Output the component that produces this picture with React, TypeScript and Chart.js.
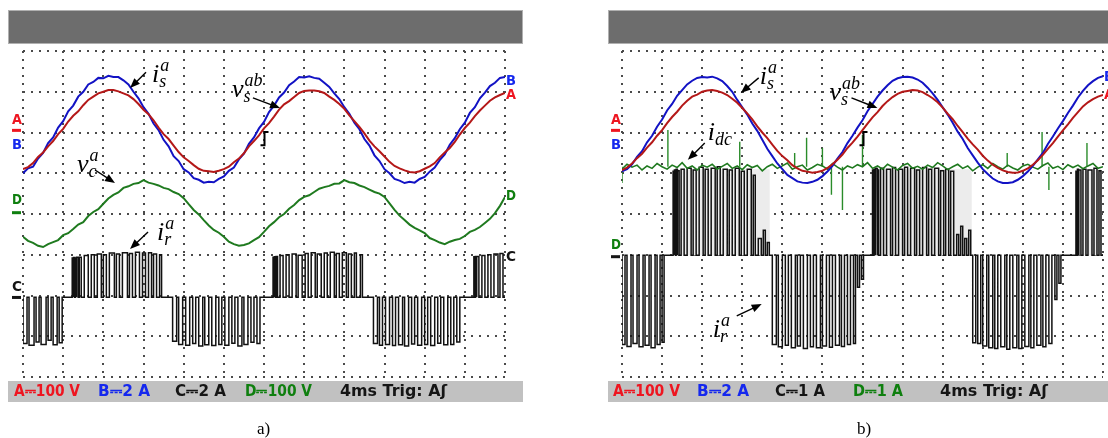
import React, { useEffect, useRef } from 'react';
import { Chart, registerables } from 'chart.js';

Chart.register(...registerables);

// ---------------- DATA (time in ms, 4 ms/div; level in screen divisions, 0 = bottom row, 8 = top row) ----------------
const timeTicks = [0, 4, 8, 12, 16, 20, 24, 28, 32, 36, 40, 44, 48];
const levelTicks = [0, 1, 2, 3, 4, 5, 6, 7, 8];

const sampleTimes = [0, 0.5, 1, 1.5, 2, 2.5, 3, 3.5, 4, 4.5, 5, 5.5, 6, 6.5, 7, 7.5, 8, 8.5, 9, 9.5, 10, 10.5, 11, 11.5, 12, 12.5, 13, 13.5, 14, 14.5, 15, 15.5, 16, 16.5, 17, 17.5, 18, 18.5, 19, 19.5, 20, 20.5, 21, 21.5, 22, 22.5, 23, 23.5, 24, 24.5, 25, 25.5, 26, 26.5, 27, 27.5, 28, 28.5, 29, 29.5, 30, 30.5, 31, 31.5, 32, 32.5, 33, 33.5, 34, 34.5, 35, 35.5, 36, 36.5, 37, 37.5, 38, 38.5, 39, 39.5, 40, 40.5, 41, 41.5, 42, 42.5, 43, 43.5, 44, 44.5, 45, 45.5, 46, 46.5, 47, 47.5, 48];

// panel a)
const isA_blue = [5.00, 5.12, 5.16, 5.36, 5.50, 5.74, 5.88, 6.12, 6.28, 6.52, 6.66, 6.88, 7.00, 7.18, 7.24, 7.34, 7.33, 7.39, 7.36, 7.36, 7.28, 7.18, 7.00, 6.84, 6.62, 6.46, 6.22, 6.06, 5.82, 5.66, 5.42, 5.30, 5.10, 5.02, 4.88, 4.84, 4.77, 4.79, 4.78, 4.86, 4.92, 5.06, 5.14, 5.34, 5.48, 5.72, 5.88, 6.10, 6.26, 6.50, 6.66, 6.86, 6.98, 7.16, 7.25, 7.36, 7.35, 7.38, 7.34, 7.32, 7.22, 7.12, 6.96, 6.82, 6.62, 6.46, 6.24, 6.08, 5.84, 5.68, 5.44, 5.30, 5.10, 5.00, 4.86, 4.82, 4.76, 4.79, 4.77, 4.86, 4.91, 5.04, 5.14, 5.32, 5.46, 5.70, 5.86, 6.08, 6.24, 6.48, 6.62, 6.84, 6.98, 7.14, 7.22, 7.34, 7.36];
const vsA_red = [5.10, 5.15, 5.25, 5.40, 5.51, 5.66, 5.79, 5.96, 6.09, 6.27, 6.41, 6.52, 6.67, 6.80, 6.88, 6.96, 7.00, 7.04, 7.04, 7.01, 6.96, 6.91, 6.82, 6.70, 6.56, 6.45, 6.30, 6.12, 5.96, 5.84, 5.68, 5.52, 5.39, 5.30, 5.20, 5.11, 5.06, 5.05, 5.03, 5.06, 5.10, 5.16, 5.27, 5.36, 5.49, 5.66, 5.79, 5.93, 6.10, 6.23, 6.39, 6.56, 6.69, 6.77, 6.87, 6.97, 7.02, 7.03, 7.03, 7.01, 6.97, 6.88, 6.80, 6.70, 6.58, 6.42, 6.28, 6.14, 5.98, 5.80, 5.66, 5.54, 5.41, 5.28, 5.18, 5.12, 5.07, 5.03, 5.02, 5.05, 5.11, 5.17, 5.25, 5.39, 5.51, 5.62, 5.77, 5.95, 6.11, 6.24, 6.40, 6.54, 6.66, 6.78, 6.86, 6.92, 6.97];
const vcA_green = [3.44, 3.34, 3.29, 3.22, 3.19, 3.26, 3.31, 3.36, 3.48, 3.53, 3.63, 3.74, 3.80, 3.95, 4.05, 4.12, 4.25, 4.38, 4.47, 4.53, 4.64, 4.68, 4.74, 4.76, 4.83, 4.77, 4.74, 4.70, 4.64, 4.61, 4.54, 4.49, 4.39, 4.24, 4.10, 3.99, 3.85, 3.72, 3.61, 3.54, 3.44, 3.32, 3.26, 3.22, 3.24, 3.28, 3.36, 3.43, 3.56, 3.70, 3.80, 3.92, 4.00, 4.13, 4.22, 4.34, 4.42, 4.46, 4.54, 4.62, 4.66, 4.69, 4.74, 4.75, 4.83, 4.78, 4.76, 4.70, 4.66, 4.60, 4.54, 4.50, 4.42, 4.26, 4.10, 3.96, 3.85, 3.74, 3.66, 3.60, 3.53, 3.41, 3.36, 3.30, 3.26, 3.32, 3.36, 3.39, 3.46, 3.56, 3.61, 3.68, 3.78, 3.88, 4.02, 4.20, 4.42];
const irA_base = 1.96;
// [start ms, end ms, level]
const irA_pulses: number[][] = [
  [0.0, 0.4, 0.82], [0.6, 1.1, 0.78], [1.3, 1.6, 0.86], [1.8, 2.3, 0.80], [2.5, 2.8, 0.90], [3.0, 3.4, 0.79], [3.6, 3.9, 0.84],
  [4.9, 5.0, 2.92], [5.05, 5.15, 2.93], [5.2, 5.3, 2.92], [5.35, 5.5, 2.94], [5.6, 5.8, 2.94], [6.1, 6.5, 2.98], [6.8, 7.1, 3.00], [7.4, 7.8, 3.02], [8.0, 8.3, 3.00], [8.6, 9.1, 3.04], [9.3, 9.6, 3.02], [9.9, 10.4, 3.05], [10.6, 10.9, 3.03], [11.2, 11.6, 3.06], [11.9, 12.2, 3.04], [12.5, 12.8, 3.05], [13.0, 13.3, 3.02], [13.6, 13.8, 3.00],
  [14.9, 15.3, 0.88], [15.5, 15.9, 0.80], [16.2, 16.6, 0.78], [16.9, 17.2, 0.82], [17.5, 17.9, 0.76], [18.1, 18.5, 0.79], [18.8, 19.2, 0.77], [19.5, 19.8, 0.80], [20.1, 20.5, 0.78], [20.8, 21.1, 0.83], [21.4, 21.8, 0.76], [22.0, 22.4, 0.80], [22.7, 23.0, 0.85], [23.3, 23.6, 0.82],
  [24.9, 25.0, 2.94], [25.05, 25.15, 2.95], [25.2, 25.35, 2.96], [25.6, 25.9, 2.98], [26.2, 26.5, 3.00], [26.8, 27.2, 3.02], [27.4, 27.8, 2.99], [28.1, 28.4, 3.03], [28.7, 29.1, 3.05], [29.3, 29.7, 3.02], [30.0, 30.3, 3.04], [30.6, 31.0, 3.06], [31.2, 31.5, 3.03], [31.8, 32.2, 3.05], [32.4, 32.7, 3.02], [33.0, 33.2, 3.04], [33.6, 33.8, 3.00],
  [34.9, 35.3, 0.82], [35.5, 35.8, 0.78], [36.1, 36.5, 0.80], [36.8, 37.1, 0.77], [37.4, 37.8, 0.79], [38.0, 38.4, 0.76], [38.7, 39.0, 0.81], [39.3, 39.7, 0.78], [40.0, 40.3, 0.80], [40.6, 41.0, 0.77], [41.3, 41.6, 0.83], [41.9, 42.3, 0.79], [42.6, 42.9, 0.80], [43.2, 43.5, 0.86],
  [44.9, 45.0, 2.95], [45.05, 45.15, 2.96], [45.2, 45.4, 2.96], [45.7, 46.0, 2.98], [46.3, 46.6, 3.00], [46.9, 47.3, 3.02], [47.5, 47.8, 3.03],
];

// panel b)
const isB_blue = [5.05, 5.10, 5.22, 5.40, 5.54, 5.76, 5.92, 6.14, 6.32, 6.54, 6.70, 6.90, 7.04, 7.18, 7.27, 7.34, 7.36, 7.35, 7.37, 7.33, 7.26, 7.14, 7.00, 6.80, 6.62, 6.44, 6.22, 6.04, 5.82, 5.60, 5.42, 5.24, 5.10, 4.96, 4.88, 4.80, 4.77, 4.76, 4.79, 4.84, 4.93, 5.04, 5.18, 5.36, 5.52, 5.74, 5.92, 6.12, 6.30, 6.52, 6.70, 6.88, 7.03, 7.16, 7.27, 7.33, 7.36, 7.37, 7.35, 7.30, 7.22, 7.10, 6.96, 6.80, 6.62, 6.44, 6.24, 6.02, 5.84, 5.62, 5.44, 5.26, 5.10, 4.98, 4.87, 4.80, 4.76, 4.76, 4.78, 4.84, 4.93, 5.04, 5.18, 5.34, 5.50, 5.72, 5.90, 6.10, 6.28, 6.48, 6.66, 6.86, 7.02, 7.16, 7.26, 7.34, 7.38];
const vsB_red = [5.08, 5.14, 5.24, 5.37, 5.48, 5.63, 5.76, 5.92, 6.06, 6.23, 6.38, 6.51, 6.66, 6.78, 6.88, 6.93, 7.00, 7.03, 7.04, 7.02, 6.98, 6.92, 6.83, 6.73, 6.60, 6.47, 6.32, 6.15, 6.00, 5.86, 5.70, 5.55, 5.42, 5.32, 5.20, 5.12, 5.06, 5.04, 5.01, 5.03, 5.06, 5.13, 5.22, 5.33, 5.46, 5.62, 5.75, 5.90, 6.06, 6.22, 6.37, 6.50, 6.65, 6.77, 6.87, 6.95, 7.00, 7.02, 7.04, 7.03, 6.99, 6.92, 6.84, 6.74, 6.61, 6.46, 6.33, 6.16, 6.01, 5.85, 5.71, 5.58, 5.43, 5.31, 5.21, 5.13, 5.07, 5.03, 5.01, 5.02, 5.06, 5.12, 5.21, 5.32, 5.45, 5.60, 5.74, 5.90, 6.05, 6.20, 6.36, 6.50, 6.64, 6.74, 6.82, 6.88, 6.92];
const idcB_green = [5.10, 5.22, 5.15, 5.20, 5.08, 5.18, 5.12, 5.24, 5.16, 5.10, 5.20, 5.14, 5.26, 5.12, 5.18, 5.08, 5.20, 5.15, 5.22, 5.10, 5.17, 5.24, 5.12, 5.18, 5.09, 5.21, 5.14, 5.19, 5.06, 5.16, 5.22, 5.12, 5.18, 5.25, 5.10, 5.16, 5.20, 5.08, 5.14, 5.22, 5.18, 5.10, 5.24, 5.15, 5.08, 5.18, 5.13, 5.21, 5.16, 5.26, 5.12, 5.18, 5.10, 5.22, 5.15, 5.08, 5.19, 5.24, 5.12, 5.17, 5.10, 5.20, 5.14, 5.26, 5.18, 5.09, 5.16, 5.22, 5.12, 5.18, 5.06, 5.15, 5.21, 5.12, 5.24, 5.16, 5.10, 5.20, 5.13, 5.08, 5.18, 5.22, 5.15, 5.10, 5.19, 5.25, 5.12, 5.17, 5.09, 5.21, 5.14, 5.20, 5.11, 5.18, 5.24, 5.12, 5.16];
const idcB_base = 5.16;
// [time ms, spike tip level]
const idcB_spikes: number[][] = [
  [0.0, 4.76], [4.58, 6.06], [11.75, 5.77], [17.23, 5.50], [18.42, 5.87], [20.0, 5.62], [20.9, 4.47], [22.0, 4.10], [24.0, 5.94], [38.44, 5.50], [41.92, 6.01], [42.6, 4.59], [46.4, 5.74],
];
const irB_base = 2.99;
const irB_pulses: number[][] = [
  [0.0, 0.3, 0.80], [0.5, 0.9, 0.75], [1.1, 1.5, 0.82], [1.7, 2.1, 0.74], [2.3, 2.7, 0.78], [2.9, 3.3, 0.72], [3.5, 3.8, 0.80], [4.0, 4.2, 0.85],
  [5.1, 5.2, 5.05], [5.25, 5.35, 5.08], [5.4, 5.5, 5.10], [5.55, 5.7, 5.06], [5.9, 6.2, 5.10], [6.5, 6.9, 5.12], [7.1, 7.4, 5.08], [7.7, 8.1, 5.15], [8.3, 8.6, 5.10], [8.9, 9.3, 5.12], [9.5, 9.8, 5.16], [10.1, 10.5, 5.10], [10.7, 11.0, 5.08], [11.3, 11.7, 5.12], [11.9, 12.2, 5.05], [12.5, 12.9, 5.10], [13.1, 13.3, 4.95], [13.6, 13.9, 3.40], [14.1, 14.3, 3.60], [14.5, 14.7, 3.30],
  [15.0, 15.4, 0.80], [15.6, 16.0, 0.74], [16.3, 16.6, 0.78], [16.9, 17.3, 0.72], [17.5, 17.8, 0.76], [18.1, 18.5, 0.70], [18.8, 19.1, 0.74], [19.4, 19.8, 0.72], [20.0, 20.4, 0.76], [20.7, 21.0, 0.73], [21.3, 21.7, 0.78], [21.9, 22.2, 0.75], [22.5, 22.8, 0.80], [23.1, 23.3, 0.82], [23.5, 23.7, 2.20], [23.9, 24.1, 2.40],
  [25.0, 25.1, 5.08], [25.15, 25.25, 5.10], [25.3, 25.45, 5.12], [25.5, 25.6, 5.08], [25.8, 26.1, 5.12], [26.4, 26.8, 5.10], [27.0, 27.3, 5.14], [27.6, 28.0, 5.10], [28.2, 28.5, 5.15], [28.8, 29.2, 5.12], [29.4, 29.7, 5.08], [30.0, 30.4, 5.14], [30.6, 30.9, 5.10], [31.2, 31.6, 5.12], [31.8, 32.1, 5.06], [32.3, 32.6, 5.10], [32.8, 33.1, 5.05], [33.4, 33.6, 3.50], [33.8, 34.0, 3.70], [34.2, 34.4, 3.40], [34.6, 34.8, 3.60],
  [35.0, 35.3, 0.84], [35.5, 35.8, 0.82], [36.0, 36.4, 0.76], [36.6, 37.0, 0.72], [37.2, 37.5, 0.70], [37.8, 38.2, 0.74], [38.4, 38.7, 0.68], [39.0, 39.4, 0.72], [39.6, 39.9, 0.70], [40.2, 40.6, 0.75], [40.8, 41.1, 0.72], [41.4, 41.8, 0.78], [42.0, 42.3, 0.74], [42.6, 42.9, 0.82], [43.2, 43.4, 1.90], [43.6, 43.8, 2.30],
  [45.3, 45.4, 5.05], [45.45, 45.55, 5.10], [45.6, 45.8, 5.08], [46.0, 46.3, 5.10], [46.5, 46.9, 5.08], [47.1, 47.4, 5.12], [47.6, 47.8, 5.06],
];
// shaded envelope of the positive half-waves [start, end, level]
const irB_shade: number[][] = [[5.08, 14.74, 5.10], [25.0, 34.9, 5.10], [45.3, 47.8, 5.10]];

// channel markers [label, level, ground-mark level or null]
const markersLeftA: [string, number, number | null][] = [['A', 6.31, 6.04], ['B', 5.69, null], ['D', 4.34, 4.02], ['C', 2.21, 1.94]];
const markersRightA: [string, number][] = [['B', 7.26], ['A', 6.90], ['D', 4.44], ['C', 2.94]];
const markersLeftB: [string, number, number | null][] = [['A', 6.31, 6.04], ['B', 5.69, null], ['D', 3.24, 2.94]];
const markersRightB: [string, number][] = [['B', 7.36], ['A', 6.92]];
const trigger = { t: 24.0, top: 6.01, bottom: 5.69 };

// annotations: main, sup, sub, label position [t, level], arrow from, arrow to
type Ann = { main: string; sup: string; sub: string; at: number[]; from: number[]; to: number[] };
const annotationsA: Ann[] = [
  { main: 'i', sup: 'a', sub: 's', at: [12.85, 7.24], from: [12.25, 7.48], to: [10.66, 7.09] },
  { main: 'v', sup: 'ab', sub: 's', at: [20.81, 6.87], from: [22.9, 6.85], to: [25.6, 6.60] },
  { main: 'v', sup: 'a', sub: 'c', at: [5.38, 5.03], from: [7.17, 5.08], to: [9.16, 4.76] },
  { main: 'i', sup: 'a', sub: 'r', at: [13.34, 3.36], from: [12.45, 3.56], to: [10.66, 3.14] },
];
const annotationsB: Ann[] = [
  { main: 'i', sup: 'a', sub: 's', at: [13.74, 7.19], from: [13.64, 7.34], to: [11.85, 6.97] },
  { main: 'v', sup: 'ab', sub: 's', at: [20.71, 6.80], from: [22.9, 6.85], to: [25.49, 6.60] },
  { main: 'i', sup: '', sub: 'dc', at: [8.56, 5.82], from: [8.26, 5.74], to: [6.57, 5.33] },
  { main: 'i', sup: 'a', sub: 'r', at: [9.06, 0.98], from: [11.45, 1.50], to: [13.94, 1.79] },
];

const statusA = ['A\u2393100 V', 'B\u23932 A', 'C\u23932 A', 'D\u2393100 V', '4ms Trig: A\u0283'];
const statusB = ['A\u2393100 V', 'B\u23932 A', 'C\u23931 A', 'D\u23931 A', '4ms Trig: A\u0283'];

// ---------------- STYLE / LAYOUT ----------------
const COL = {
  red: '#b41818', blue: '#1212c4', green: '#1f7a1f', black: '#111111',
  redTxt: '#ee1520', blueTxt: '#1528ee', greenTxt: '#0f7f0f', blackTxt: '#151515',
};
const markerColor: Record<string, string> = { A: COL.redTxt, B: COL.blueTxt, C: COL.blackTxt, D: COL.greenTxt };
const statusColors = [COL.redTxt, COL.blueTxt, COL.blackTxt, COL.greenTxt, COL.blackTxt];

const zip = (xs: number[], ys: number[]) => xs.map((x, i) => ({ x, y: ys[i] }));
const pulseTrace = (base: number, pulses: number[][]) => {
  const pts: { x: number; y: number }[] = [{ x: 0, y: base }];
  pulses.forEach(([s, e, lv]) => {
    pts.push({ x: s, y: base }, { x: s, y: lv }, { x: e, y: lv }, { x: e, y: base });
  });
  pts.push({ x: 48, y: base });
  return pts;
};
const spikeTrace = (base: number, spikes: number[][]) => {
  const pts: { x: number; y: number | null }[] = [];
  spikes.forEach(([t, lv]) => { pts.push({ x: t, y: base }, { x: t, y: lv }, { x: t, y: null }); });
  return pts;
};
const line = (data: any[], color: string, width: number, extra: any = {}) => ({
  data, borderColor: color, borderWidth: width, pointRadius: 0, fill: false, tension: 0, ...extra,
});

type Panel = {
  key: string;
  canvasLeft: number;
  padding: { left: number; right: number; top: number; bottom: number };
  barX0: number; barX1: number;
  datasets: any[];
  left: [string, number, number | null][];
  right: [string, number][];
  underColors: Record<string, string>;
  anns: Ann[];
  status: string[];
  statusX: number[]; statusW: number[];
  caption: string; captionX: number;
};

const panels: Panel[] = [
  {
    key: 'a', canvasLeft: 0,
    padding: { left: 23, right: 49, top: 51, bottom: 61 },
    barX0: 8, barX1: 523,
    datasets: [
      line(zip(sampleTimes, vsA_red), COL.red, 2),
      line(zip(sampleTimes, isA_blue), COL.blue, 2),
      line(zip(sampleTimes, vcA_green), COL.green, 2),
      line(pulseTrace(irA_base, irA_pulses), COL.black, 1.5),
    ],
    left: markersLeftA, right: markersRightA, underColors: {},
    anns: annotationsA, status: statusA,
    statusX: [14, 98, 175, 245, 340], statusW: [66, 52, 51, 67, 107],
    caption: 'a)', captionX: 257,
  },
  {
    key: 'b', canvasLeft: 554,
    padding: { left: 68, right: 5, top: 51, bottom: 61 },
    barX0: 54, barX1: 557,
    datasets: [
      line(zip(sampleTimes, vsB_red), COL.red, 2),
      line(zip(sampleTimes, isB_blue), COL.blue, 2),
      line(zip(sampleTimes, idcB_green), COL.green, 1.6),
      line(spikeTrace(idcB_base, idcB_spikes), '#2a8c2a', 1.4, { spanGaps: false }),
      line(pulseTrace(irB_base, irB_pulses), COL.black, 1.5),
      line(pulseTrace(irB_base, irB_shade), 'rgba(0,0,0,0)', 0, { fill: { value: irB_base }, backgroundColor: '#ececec' }),
    ],
    left: markersLeftB, right: markersRightB, underColors: { D: COL.blackTxt },
    anns: annotationsB, status: statusB,
    statusX: [59, 143, 221, 299, 386], statusW: [67, 52, 50, 50, 110],
    caption: 'b)', captionX: 303,
  },
];

function drawArrow(ctx: CanvasRenderingContext2D, x1: number, y1: number, x2: number, y2: number) {
  const a = Math.atan2(y2 - y1, x2 - x1);
  const c = Math.cos(a), s = Math.sin(a);
  const head = 10, hw = 4;
  ctx.strokeStyle = '#000'; ctx.fillStyle = '#000'; ctx.lineWidth = 1.4;
  ctx.beginPath(); ctx.moveTo(x1, y1); ctx.lineTo(x2 - head * c * 0.7, y2 - head * s * 0.7); ctx.stroke();
  ctx.beginPath();
  ctx.moveTo(x2, y2);
  ctx.lineTo(x2 - head * c + hw * s, y2 - head * s - hw * c);
  ctx.lineTo(x2 - head * c - hw * s, y2 - head * s + hw * c);
  ctx.closePath(); ctx.fill();
}

function decor(p: Panel) {
  return {
    id: 'decor_' + p.key,
    beforeDraw(chart: any) {
      const ctx: CanvasRenderingContext2D = chart.ctx;
      ctx.save();
      ctx.fillStyle = '#ffffff';
      ctx.fillRect(0, 0, chart.width, chart.height);
      ctx.fillStyle = '#6d6d6d';
      ctx.fillRect(p.barX0, 10, p.barX1 - p.barX0, 34);
      ctx.strokeStyle = '#b0b0b0'; ctx.lineWidth = 1;
      ctx.strokeRect(p.barX0 + 0.5, 10.5, p.barX1 - p.barX0 - 1, 33);
      ctx.fillStyle = '#c1c1c1';
      ctx.fillRect(p.barX0, 381, p.barX1 - p.barX0, 21);
      ctx.restore();
    },
    afterDraw(chart: any) {
      const ctx: CanvasRenderingContext2D = chart.ctx;
      const xs = chart.scales.x, ys = chart.scales.y;
      const ca = chart.chartArea;
      const X = (t: number) => xs.getPixelForValue(t);
      const Y = (v: number) => ys.getPixelForValue(v);
      ctx.save();
      // channel markers
      ctx.font = 'bold 14px "DejaVu Sans"';
      ctx.textBaseline = 'middle'; ctx.textAlign = 'left';
      p.left.forEach(([lab, lv, g]) => {
        ctx.fillStyle = markerColor[lab];
        ctx.fillText(lab, ca.left - 11, Y(lv), 10);
        if (g !== null) {
          ctx.fillStyle = p.underColors[lab] || markerColor[lab];
          ctx.fillRect(ca.left - 11, Y(g) - 2, 9, 3);
        }
      });
      p.right.forEach(([lab, lv]) => {
        ctx.fillStyle = markerColor[lab];
        ctx.fillText(lab, ca.right + 1, Y(lv), 10);
      });
      // trigger marker
      const tx = Math.round(X(trigger.t)) + 0.5;
      const tt = Y(trigger.top), tb = Y(trigger.bottom);
      ctx.strokeStyle = '#000'; ctx.lineWidth = 2;
      ctx.beginPath();
      ctx.moveTo(tx + 4, tt); ctx.lineTo(tx, tt); ctx.lineTo(tx, tb); ctx.lineTo(tx - 4, tb);
      ctx.stroke();
      // annotations
      p.anns.forEach((a) => {
        const x = X(a.at[0]), y = Y(a.at[1]);
        ctx.fillStyle = '#000';
        ctx.textBaseline = 'alphabetic';
        ctx.font = 'italic 26px "Liberation Serif"';
        ctx.fillText(a.main, x, y);
        const w = ctx.measureText(a.main).width;
        ctx.font = 'italic 18px "Liberation Serif"';
        if (a.sup) ctx.fillText(a.sup, x + w + 1, y - 11);
        if (a.sub) ctx.fillText(a.sub, x + w, y + 5);
        drawArrow(ctx, X(a.from[0]), Y(a.from[1]), X(a.to[0]), Y(a.to[1]));
      });
      // status bar texts
      ctx.font = 'bold 16px "DejaVu Sans"';
      ctx.textBaseline = 'middle';
      p.status.forEach((s, i) => {
        ctx.fillStyle = statusColors[i];
        ctx.fillText(s, p.statusX[i], 392, p.statusW[i]);
      });
      // caption
      ctx.fillStyle = '#000';
      ctx.font = '17px "Liberation Serif"';
      ctx.textBaseline = 'alphabetic';
      ctx.fillText(p.caption, p.captionX, 434);
      ctx.restore();
    },
  };
}

function Scope({ p }: { p: Panel }) {
  const ref = useRef<HTMLCanvasElement | null>(null);
  useEffect(() => {
    if (!ref.current) return;
    const chart = new Chart(ref.current, {
      type: 'line',
      data: { datasets: p.datasets },
      options: {
        responsive: false,
        animation: false,
        events: [],
        devicePixelRatio: 1,
        layout: { padding: p.padding },
        plugins: { legend: { display: false }, tooltip: { enabled: false } },
        scales: {
          x: {
            type: 'linear', min: 0, max: 48,
            afterBuildTicks: (s: any) => { s.ticks = timeTicks.map((v) => ({ value: v })); },
            ticks: { display: false },
            grid: { color: '#4a4a4a', lineWidth: 2, drawTicks: false, borderDash: [2, 6] } as any,
            border: { display: false, dash: [2, 6] },
          },
          y: {
            type: 'linear', min: 0, max: 8,
            afterBuildTicks: (s: any) => { s.ticks = levelTicks.map((v) => ({ value: v })); },
            ticks: { display: false },
            grid: { color: '#4a4a4a', lineWidth: 2, drawTicks: false, borderDash: [2, 6] } as any,
            border: { display: false, dash: [2, 6] },
          },
        },
      } as any,
      plugins: [decor(p)],
    });
    return () => chart.destroy();
  }, [p]);
  return (
    <canvas
      ref={ref}
      width={554}
      height={438}
      style={{ position: 'absolute', left: p.canvasLeft, top: 0, width: 554, height: 438 }}
    />
  );
}

export default function App() {
  return (
    <div style={{ position: 'fixed', left: 0, top: 0, width: 1108, height: 438, background: '#fff', overflow: 'hidden' }}>
      {panels.map((p) => <Scope key={p.key} p={p} />)}
    </div>
  );
}
